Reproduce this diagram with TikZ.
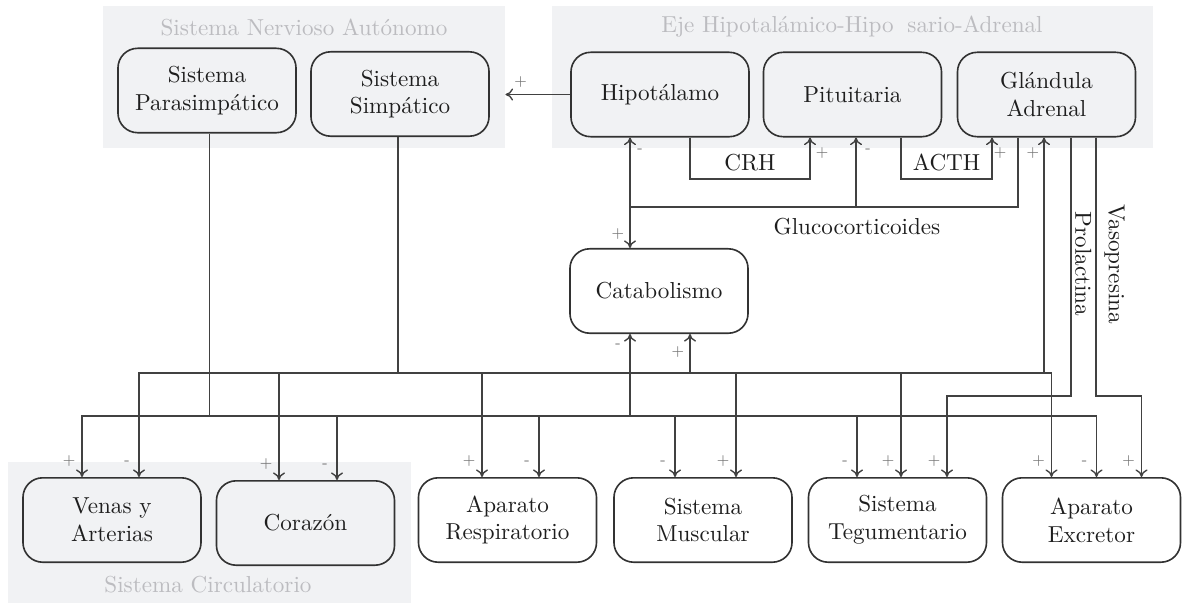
\documentclass[tikz,border=0pt]{standalone}
\usepackage{fontspec}
\usetikzlibrary{calc,fit,arrows.meta}
\definecolor{grpbg}{RGB}{241,242,244}
\definecolor{grptxt}{RGB}{188,188,192}
\definecolor{bordc}{RGB}{50,50,50}
\definecolor{lnc}{RGB}{65,65,65}
\definecolor{txtc}{RGB}{30,30,30}
\definecolor{sgnc}{RGB}{115,115,115}
\tikzset{
  box/.style={draw=bordc, line width=0.7pt, rounded corners=8.5pt,
    minimum width=77pt, minimum height=36.5pt, align=center, text=txtc,
    inner sep=2pt},
  grp/.style={fill=grpbg, draw=none, inner sep=0pt},
  grptitle/.style={text=grptxt, inner sep=0pt},
  conn/.style={draw=lnc, line width=0.6pt},
  arr/.style={conn, -{To[length=3.3pt,width=5.2pt]}},
  barr/.style={conn, {To[length=3.3pt,width=5.2pt]}-{To[length=3.3pt,width=5.2pt]}},
  sg/.style={font=\fontsize{6}{7}\selectfont, text=sgnc, inner sep=0pt},
  pl/.style={sg, pos=1, xshift=-5.6pt, yshift=6.9pt},
  mi/.style={sg, pos=1, xshift=-5.2pt, yshift=6pt},
  lbl/.style={text=txtc},
}
\begin{document}
\begin{tikzpicture}[x=0.4325pt, y=-0.4325pt]
\useasboundingbox (0,0) rectangle (1182,602);
% group backgrounds
\node[grp, fit={(103,6) (505,148)}] (sna) {};
\node[grp, fit={(552,6) (1153,148)}] (hpa) {};
\node[grp, fit={(8,462) (411,615)}] (circ) {};
\node[grptitle] (snat) at (304,27) {Sistema Nervioso Autónomo};
\node[grptitle] (hpat) at (852,27) {Eje Hipotalámico-Hipo\hspace{0.6em}sario-Adrenal};
\node[grptitle] (circt) at (208,585) {Sistema Circulatorio};
% nodes
\node[box] (para) at (207,90.5) {Sistema\\Parasimpático};
\node[box] (simp) at (400,94) {Sistema\\Simpático};
\node[box] (hipo) at (660,94.5) {Hipotálamo};
\node[box] (pitu) at (852.5,94.5) {Pituitaria};
\node[box] (adre) at (1046.5,94.5) {Glándula\\Adrenal};
\node[box] (cata) at (659,291) {Catabolismo};
\node[box] (venas) at (112,520) {Venas y\\Arterias};
\node[box] (cora) at (305.5,523) {Corazón};
\node[box] (resp) at (507.5,520) {Aparato\\Respiratorio};
\node[box] (musc) at (703,520) {Sistema\\Muscular};
\node[box] (teg) at (897.5,520) {Sistema\\Tegumentario};
\node[box] (excr) at (1091.5,520) {Aparato\\Excretor};
% levels
\coordinate (yS) at (0,373);
\coordinate (yP) at (0,416);
\coordinate (yG) at (0,207);
\coordinate (yH) at (0,179);
\coordinate (yV) at (0,396);
% attachment points
\coordinate (sO) at ($(simp.south)+(-2,0)$);
\coordinate (pO) at ($(para.south)+(2.5,0)$);
\coordinate (vP) at ($(venas.north)+(-30,0)$);
\coordinate (vS) at ($(venas.north)+(27,0)$);
\coordinate (cS) at ($(cora.north)+(-26.5,0)$);
\coordinate (cP) at ($(cora.north)+(31.5,0)$);
\coordinate (rS) at ($(resp.north)+(-25.5,0)$);
\coordinate (rP) at ($(resp.north)+(31.5,0)$);
\coordinate (mP) at ($(musc.north)+(-28,0)$);
\coordinate (mS) at ($(musc.north)+(33,0)$);
\coordinate (tP) at ($(teg.north)+(-40.5,0)$);
\coordinate (tS) at ($(teg.north)+(3.5,0)$);
\coordinate (tR) at ($(teg.north)+(49.5,0)$);
\coordinate (eS) at ($(excr.north)+(-40,0)$);
\coordinate (eP) at ($(excr.north)+(5,0)$);
\coordinate (eV) at ($(excr.north)+(50,0)$);
\coordinate (hG) at ($(hipo.south)+(-30,0)$);
\coordinate (hC) at ($(hipo.south)+(30,0)$);
\coordinate (pC) at ($(pitu.south)+(-42.5,0)$);
\coordinate (pG) at ($(pitu.south)+(3.5,0)$);
\coordinate (pA) at ($(pitu.south)+(48.5,0)$);
\coordinate (aA) at ($(adre.south)+(-54.5,0)$);
\coordinate (aG) at ($(adre.south)+(-28.5,0)$);
\coordinate (aS) at ($(adre.south)+(-2.5,0)$);
\coordinate (aPr) at ($(adre.south)+(24.5,0)$);
\coordinate (aV) at ($(adre.south)+(49.5,0)$);
\coordinate (kP) at ($(cata.south)+(-29,0)$);
\coordinate (kS) at ($(cata.south)+(31,0)$);
% hypothalamus -> autonomic system
\draw[arr] (hipo.west) -- node[sg, pos=1, xshift=6.5pt, yshift=5.2pt]{+} (hipo.west -| sna.east);
% CRH and ACTH
\draw[arr] (hC) -- (hC |- yH) -- node[above, lbl]{CRH} (pC |- yH)
  -- node[sg, pos=1, xshift=5.2pt, yshift=-6.5pt]{+} (pC);
\draw[arr] (pA) -- (pA |- yH) -- node[above, lbl]{ACTH} (aA |- yH)
  -- node[sg, pos=1, xshift=3.5pt, yshift=-6.5pt]{+} (aA);
% glucocorticoids
\draw[conn] (aG) -- (aG |- yG) -- node[pos=0.415, yshift=-8.5pt, lbl]{Glucocorticoides} (hG |- yG);
\draw[barr] (hG) -- node[sg, pos=0, xshift=4.3pt, yshift=-5.6pt]{-}
  node[sg, pos=1, xshift=-5.2pt, yshift=6pt]{+} (hG |- cata.north);
\draw[arr] (pG |- yG) -- node[sg, pos=1, xshift=5.2pt, yshift=-5.6pt]{-} (pG);
% autonomic buses
\draw[conn] (sO) -- (sO |- yS);
\draw[conn] (pO) -- (pO |- yP);
\draw[barr] (vS) -- node[mi, pos=0]{-} (vS |- yS) -- (eS |- yS) -- node[pl]{+} (eS);
\draw[barr] (vP) -- node[pl, pos=0]{+} (vP |- yP) -- (eP |- yP) -- node[mi]{-} (eP);
\draw[arr] (cS |- yS) -- node[pl]{+} (cS);
\draw[arr] (cP |- yP) -- node[mi]{-} (cP);
\draw[arr] (rS |- yS) -- node[pl]{+} (rS);
\draw[arr] (rP |- yP) -- node[mi]{-} (rP);
\draw[arr] (mP |- yP) -- node[mi]{-} (mP);
\draw[arr] (mS |- yS) -- node[pl]{+} (mS);
\draw[arr] (tP |- yP) -- node[mi]{-} (tP);
\draw[arr] (tS |- yS) -- node[pl]{+} (tS);
\draw[arr] (kP |- yP) -- node[sg, pos=1, xshift=-5.2pt, yshift=-5.2pt]{-} (kP);
\draw[arr] (kS |- yS) -- node[sg, pos=1, xshift=-5.2pt, yshift=-7.8pt]{+} (kS);
\draw[arr] (aS |- yS) -- node[sg, pos=1, xshift=-4.8pt, yshift=-6.5pt]{+} (aS);
% prolactin and vasopressin
\draw[arr] (aPr) -- node[pos=0.49, rotate=-90, anchor=south, inner sep=1.5pt, lbl]{Prolactina} (aPr |- yV)
  -- (tR |- yV) -- node[pl]{+} (tR);
\draw[arr] (aV) -- node[pos=0.49, rotate=-90, anchor=south, lbl]{Vasopresina} (aV |- yV)
  -- (eV |- yV) -- node[pl]{+} (eV);
\end{tikzpicture}
\end{document}
